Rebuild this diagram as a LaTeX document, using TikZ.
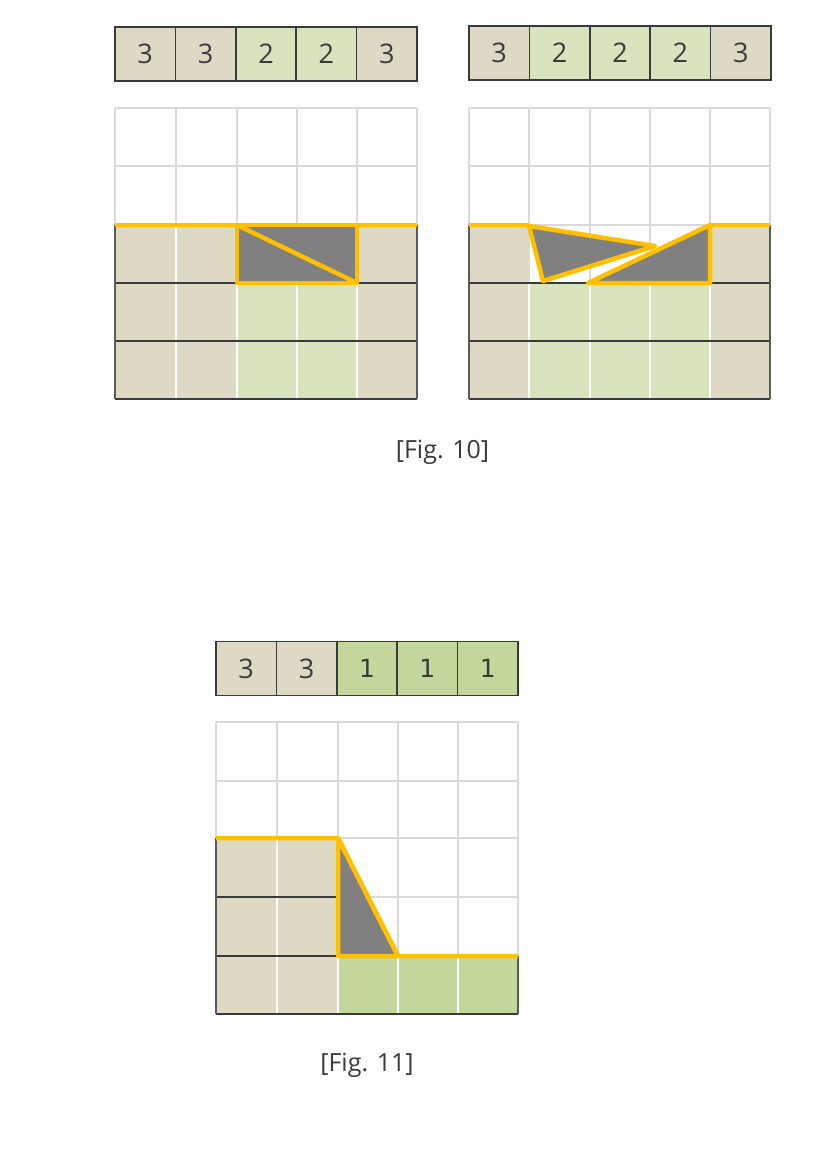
\documentclass[tikz,border=0pt]{standalone}
\usepackage{fontspec}
\setmainfont{Open Sans}
\newfontfamily\onefont{DejaVu Sans}
\usepackage{tikz}
\usetikzlibrary{positioning}
\definecolor{ink}{HTML}{3A3A3A}
\definecolor{side}{HTML}{5A5A5A}
\definecolor{tan}{HTML}{DDD9C4}
\definecolor{lgreen}{HTML}{D7E4BD}
\definecolor{mgreen}{HTML}{C3D69B}
\definecolor{rimc}{HTML}{FFC000}
\definecolor{cutc}{HTML}{808080}
\definecolor{gridc}{HTML}{D9D9D9}
\tikzset{
  cell/.style={draw=ink,line width=1.6pt,minimum width=60.4pt,minimum height=54pt,inner sep=0pt,outer sep=0pt,font=\fontsize{27}{30}\selectfont,text=ink},
  tancell/.style={cell,fill=tan},
  grncell/.style={cell,fill=lgreen},
  onecell/.style={cell,fill=mgreen,font=\onefont\fontsize{25}{28}\selectfont},
  gridline/.style={draw=gridc,line width=1.6pt},
  seam/.style={draw=white,line width=1.6pt},
  rule/.style={draw=ink,line width=1.8pt},
  sideline/.style={draw=side,line width=1.8pt},
  cut/.style={fill=cutc,draw=rimc,line width=4.5pt,line join=round},
  rim/.style={draw=rimc,line width=4.5pt,line join=round},
  caption/.style={font=\fontsize{25}{28}\selectfont,text=ink,anchor=base,inner sep=0pt}
}

\begin{document}
\begin{tikzpicture}[x=1pt,y=-1pt,node distance=0pt]
  \useasboundingbox[fill=white] (0,0) rectangle (813,1149);

  % Fig. 10, left
  \node[tancell] (la1) at (145.2,54) {3};
  \node[tancell, right=of la1] (la2) {3};
  \node[grncell, right=of la2] (la3) {2};
  \node[grncell, right=of la3] (la4) {2};
  \node[tancell, right=of la4] (la5) {3};

  \foreach \x in {115,176,237,297,357,417} \draw[gridline] (\x,108) -- (\x,399);
  \foreach \y in {108,166,225} \draw[gridline] (115,\y) -- (417,\y);
  \fill[tan] (115,225) rectangle (237,399);
  \fill[tan] (357,225) rectangle (417,399);
  \fill[lgreen] (237,283) rectangle (357,399);
  \foreach \x in {176,237,297,357} \draw[seam] (\x,225) -- (\x,399);
  \foreach \y in {283,341,399} \draw[rule] (115,\y) -- (417,\y);
  \draw[sideline] (115,225) -- (115,399) (417,225) -- (417,399);
  \draw[cut] (237,225) rectangle (357,283);
  \draw[rim] (237,225) -- (357,283);
  \draw[rim] (115,225) -- (417,225);

  % Fig. 10, right
  \node[tancell] (ra1) at (499.2,53) {3};
  \node[grncell, right=of ra1] (ra2) {2};
  \node[grncell, right=of ra2] (ra3) {2};
  \node[grncell, right=of ra3] (ra4) {2};
  \node[tancell, right=of ra4] (ra5) {3};

  \foreach \x in {469,529,590,650,710,770} \draw[gridline] (\x,108) -- (\x,399);
  \foreach \y in {108,166,225} \draw[gridline] (469,\y) -- (770,\y);
  \fill[tan] (469,225) rectangle (529,399);
  \fill[tan] (710,225) rectangle (770,399);
  \fill[lgreen] (529,283) rectangle (710,399);
  \foreach \x in {529,590,650,710} \draw[seam] (\x,283) -- (\x,399);
  \foreach \y in {283,341,399} \draw[rule] (469,\y) -- (770,\y);
  \draw[sideline] (469,225) -- (469,399) (770,225) -- (770,399);
  \draw[cut] (529,226) -- (543,281) -- (655,246) -- cycle;
  \draw[cut] (588,283) -- (710,225) -- (710,283) -- cycle;
  \draw[rim] (469,225) -- (529,225);
  \draw[rim] (710,225) -- (770,225);

  \node[caption] (cap10) at (442.5,458) {[Fig. 10]};

  % Fig. 11
  \node[tancell] (sa1) at (246.2,668.5) {3};
  \node[tancell, right=of sa1] (sa2) {3};
  \node[onecell, right=of sa2] (sa3) {1};
  \node[onecell, right=of sa3] (sa4) {1};
  \node[onecell, right=of sa4] (sa5) {1};

  \foreach \x in {216,277,338,398,458,518} \draw[gridline] (\x,722) -- (\x,1014);
  \foreach \y in {722,781,838,897} \draw[gridline] (216,\y) -- (518,\y);
  \fill[tan] (216,838) rectangle (338,1014);
  \fill[mgreen] (338,956) rectangle (518,1014);
  \draw[seam] (277,838) -- (277,1014);
  \foreach \x in {338,398,458} \draw[seam] (\x,956) -- (\x,1014);
  \foreach \y in {897,956} \draw[rule] (216,\y) -- (338,\y);
  \draw[rule] (216,1014) -- (518,1014);
  \draw[sideline] (216,838) -- (216,1014) (518,956) -- (518,1014);
  \draw[cut] (338,838) -- (338,956) -- (398,956) -- cycle;
  \draw[rim] (216,838) -- (338,838) -- (398,956) -- (518,956);

  \node[caption] (cap11) at (367,1071) {[Fig. 11]};
\end{tikzpicture}
\end{document}
